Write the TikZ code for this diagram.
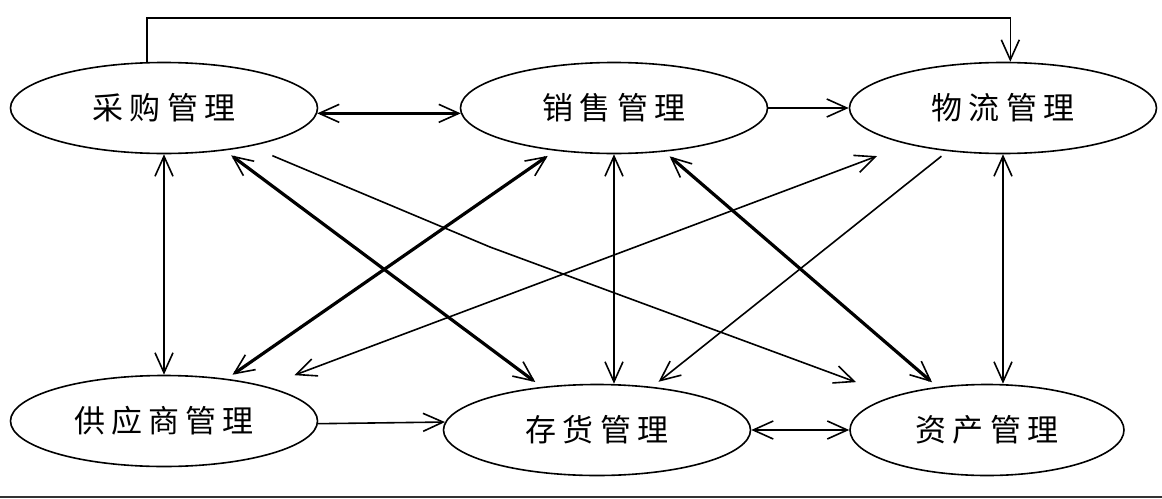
\documentclass[tikz,border=0pt]{standalone}
\usepackage{fontspec}
\setmainfont{Noto Sans CJK SC}[LetterSpace=20]
\usetikzlibrary{arrows.meta,shapes.geometric}
\tikzset{>={Straight Barb[length=20pt,width=18pt,line width=1.6pt]}}
\begin{document}
\begin{tikzpicture}[x=1pt,y=-1pt,
    mod/.style={draw,ellipse,line width=1.6pt,minimum width=307pt,minimum height=91pt,
      inner sep=0pt,font=\fontsize{31}{31}\selectfont},
    heavy/.style={line width=3.2pt}]
  \useasboundingbox (0,0) rectangle (1162,498);
  \draw
    (164,108) node[mod] (cg){采购管理}
    (614,108) node[mod] (xs){销售管理}
    (1003,108) node[mod] (wl){物流管理}
    (164,421) node[mod] (gys){供应商管理}
    (597,430) node[mod] (ch){存货管理}
    (987,430) node[mod,minimum width=274pt] (zc){资产管理};
  \coordinate (top) at (580,18);
  \coordinate (bend) at (490,247);
  \begin{scope}[line width=1.6pt]
    \draw[->] (cg.110) |- (top) -| (wl.81);
    \draw[<->,heavy] (cg.-2) to (xs.182);
    \draw[->] (xs.east) to (wl.west);
    \draw[<->] (cg.south) to (gys.north);
    \draw[<->,heavy,shorten <=8pt,shorten >=8pt] (cg.-35.5) to (ch.142.4);
    \draw[->,shorten <=24pt,shorten >=40pt] (cg.-24) -- (bend) -- (zc.160);
    \draw[<->,heavy,shorten <=9pt,shorten >=7pt] (xs.216) to (gys.34);
    \draw[<->] (xs.south) to (xs.south |- ch.north);
    \draw[<->,heavy,shorten <=7pt,shorten >=7pt] (xs.-41) to (zc.139);
    \draw[<->,shorten <=33pt,shorten >=31pt] (wl.201) to (gys.19);
    \draw[->,shorten <=8pt,shorten >=8pt] (wl.218) to (ch.38);
    \draw[<->] (wl.south) to (wl.south |- zc.north);
    \draw[->] (gys.-1) to (ch.177);
    \draw[<->] (ch.east) to (zc.west);
  \end{scope}
  \draw[line width=2pt,black!80] (0,497) -- (1162,497);
\end{tikzpicture}
\end{document}
